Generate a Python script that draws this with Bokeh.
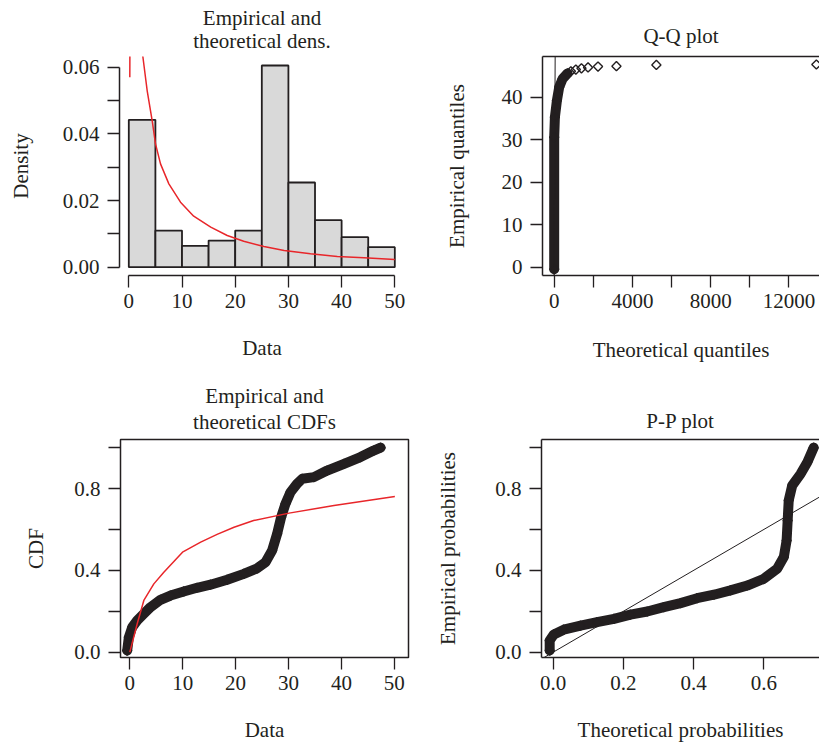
import math
from bokeh.plotting import figure
from bokeh.layouts import column, row
from bokeh.models import Range1d, FixedTicker, PrintfTickFormatter, Slope, LinearAxis
from bokeh.embed import file_html
from bokeh.resources import INLINE

FONT = "Liberation Serif"
FS = "21px"
INK = "#231f20"
RED = "#e8262a"
BAR = "#d9d9d9"

# ---------------- data ----------------
# Histogram (density scale)
hist_edges = [0, 5, 10, 15, 20, 25, 30, 35, 40, 45, 50]
hist_density = [0.0442, 0.0110, 0.0064, 0.0080, 0.0110, 0.0605, 0.0254, 0.0141, 0.0090, 0.0060]

# Fitted (theoretical) density curve
dens_x = [0.19, 0.69, 1.19, 1.69, 2.19, 2.64, 3.45, 4.39, 5.02, 5.96, 7.53, 9.72,
          12.2, 15.4, 18.5, 21.6, 25.4, 29.2, 34.15, 39.2, 44.2, 50.0]
dens_y = [0.057, 0.30, 0.14, 0.095, 0.075, 0.0632, 0.053, 0.044, 0.037, 0.031, 0.025, 0.0195,
          0.0153, 0.012, 0.0095, 0.0078, 0.0062, 0.0050, 0.0040, 0.0032, 0.0028, 0.0023]

# Empirical CDF
ecdf_x = [-0.5, -0.18, 0.45, 1.39, 2.65, 3.91, 5.8, 7.69, 10.2, 12.7, 15.25, 18.4, 21.55,
          24.07, 25.65, 26.9, 27.85, 28.6, 29.43, 30.37, 31.6, 32.6, 34.8, 37.3, 40.5,
          43.6, 46.1, 47.4]
ecdf_p = [0.008, 0.073, 0.122, 0.155, 0.188, 0.22, 0.256, 0.277, 0.297, 0.315, 0.33, 0.354,
          0.383, 0.41, 0.44, 0.497, 0.579, 0.66, 0.726, 0.782, 0.823, 0.848, 0.856, 0.888,
          0.921, 0.954, 0.986, 1.0]

# Theoretical CDF
tcdf_x = [0.0, 1.4, 2.65, 4.54, 6.43, 9.96, 13.4, 16.5, 19.7, 23.4, 30.1, 38.6, 50.1]
tcdf_p = [0.0, 0.139, 0.253, 0.334, 0.391, 0.489, 0.538, 0.576, 0.611, 0.644, 0.68, 0.717, 0.761]

# Q-Q plot: dense band and sparse upper tail
qq_band_theo = [0, 0, 36, 138, 255, 427, 682]
qq_band_emp = [-0.5, 30.6, 35.3, 39.2, 42.35, 44.3, 45.6]
qq_tail_theo = [852, 1107, 1393, 1730, 2240, 3182, 5223, 13403]
qq_tail_emp = [46.1, 46.5, 46.8, 47.0, 47.2, 47.3, 47.6, 47.7]

# P-P plot
pp_theo = [-0.01, -0.01, 0.002, 0.03, 0.078, 0.125, 0.173, 0.22, 0.268, 0.315, 0.363, 0.41,
           0.458, 0.505, 0.553, 0.60, 0.638, 0.657, 0.665, 0.668, 0.671, 0.681, 0.705, 0.724, 0.742]
pp_emp = [0.008, 0.057, 0.087, 0.11, 0.13, 0.147, 0.163, 0.184, 0.199, 0.22, 0.24, 0.264,
          0.281, 0.302, 0.326, 0.359, 0.408, 0.465, 0.546, 0.644, 0.742, 0.815, 0.872, 0.929, 1.0]

# reference line y = x
ref_gradient = 1
ref_intercept = 0


def base_fig(w, h, xr, yr, left, right, top, bottom, box):
    p = figure(width=w, height=h, x_range=Range1d(*xr), y_range=Range1d(*yr),
               output_backend="svg", toolbar_location=None,
               min_border_left=left, min_border_right=right,
               min_border_top=top, min_border_bottom=bottom)
    p.grid.visible = False
    p.background_fill_color = "white"
    p.border_fill_color = "white"
    if box:
        p.outline_line_color = INK
        p.outline_line_width = 1.5
        p.outline_line_alpha = 1.0
    else:
        p.outline_line_color = None
    return p


def style_axis(ax, major, minor, fmt, label, label_standoff, tick_standoff,
               bounds=None, line=False):
    ax.ticker = FixedTicker(ticks=major, minor_ticks=minor)
    ax.formatter = PrintfTickFormatter(format=fmt)
    ax.axis_label = label
    ax.axis_label_standoff = label_standoff
    ax.axis_label_text_font = FONT
    ax.axis_label_text_font_size = FS
    ax.axis_label_text_font_style = "normal"
    ax.axis_label_text_color = INK
    ax.major_label_text_font = FONT
    ax.major_label_text_font_size = FS
    ax.major_label_text_color = INK
    ax.major_label_standoff = tick_standoff
    ax.major_tick_in = 0
    ax.major_tick_out = 12
    ax.minor_tick_in = 0
    ax.minor_tick_out = 12
    ax.major_tick_line_color = INK
    ax.minor_tick_line_color = INK
    ax.major_tick_line_width = 1.3
    ax.minor_tick_line_width = 1.3
    ax.axis_line_color = INK if line else None
    ax.axis_line_width = 1.5
    if bounds is not None:
        ax.bounds = bounds


def title_axis(p, text, standoff, line=False, bounds=None):
    """Title line drawn as the label of a tick-less axis above the frame.
    With line=True the axis line also forms the top side of the box."""
    ax = LinearAxis(ticker=FixedTicker(ticks=[]), major_tick_out=0, major_tick_in=0,
                    minor_tick_out=0, minor_tick_in=0, major_label_standoff=0,
                    axis_label=text, axis_label_standoff=standoff,
                    axis_label_text_font=FONT, axis_label_text_font_size=FS,
                    axis_label_text_font_style="normal", axis_label_text_color=INK,
                    axis_label_text_line_height=1.0,
                    axis_line_color=INK if line else None, axis_line_width=1.5)
    if bounds is not None:
        ax.bounds = bounds
    p.add_layout(ax, "above")


def band(p, xs, ys, width=10):
    p.line(xs, ys, line_color=INK, line_width=width, line_cap="round", line_join="round")


def diamonds(p, xs, ys):
    p.scatter(xs, ys, marker="square", angle=math.pi / 4, size=6.5,
              fill_color=None, line_color=INK, line_width=1.4)


# ---------------- panel 1: histogram + density ----------------
p1 = base_fig(422, 370, (-1.748, 51.82), (-0.00249, 0.0632), 119, 18, 56, 95, box=False)
p1.quad(left=hist_edges[:-1], right=hist_edges[1:], bottom=0, top=hist_density,
        fill_color=BAR, line_color=INK, line_width=1.8)
p1.line(dens_x, dens_y, line_color=RED, line_width=1.5)
style_axis(p1.xaxis[0], [0, 10, 20, 30, 40, 50], [], "%d", "Data", 25, 6,
           bounds=(0, 50), line=True)
style_axis(p1.yaxis[0], [0, 0.02, 0.04, 0.06], [0.01, 0.03, 0.05], "%.2f", "Density", 27, 8,
           bounds=(0, 0.06), line=True)
title_axis(p1, "theoretical dens.", 4)
title_axis(p1, "Empirical and", -4)

# ---------------- panel 2: Q-Q plot ----------------
p2 = base_fig(397, 370, (-598, 13563), (-1.95, 49.58), 120, 0, 56, 95, box=False)
band(p2, qq_band_theo, qq_band_emp)
diamonds(p2, qq_band_theo + qq_tail_theo, qq_band_emp + qq_tail_emp)
p2.add_layout(Slope(gradient=ref_gradient, y_intercept=ref_intercept, line_color=INK, line_width=1))
style_axis(p2.xaxis[0], [0, 4000, 8000, 12000], [2000, 6000, 10000], "%d",
           "Theoretical quantiles", 27, 6, line=True)
style_axis(p2.yaxis[0], [0, 10, 20, 30, 40], [], "%d", "Empirical quantiles", 30, 8, line=True)
title_axis(p2, "Q-Q plot", 9, line=True, bounds=(-598, 13972))

# ---------------- panel 3: CDFs ----------------
p3 = base_fig(422, 376, (-1.76, 52.68), (-0.026, 1.040), 120, 14, 69, 89, box=True)
band(p3, ecdf_x, ecdf_p)
diamonds(p3, ecdf_x, ecdf_p)
p3.line(tcdf_x, tcdf_p, line_color=RED, line_width=1.5)
style_axis(p3.xaxis[0], [0, 10, 20, 30, 40, 50], [], "%d", "Data", 25, 6)
style_axis(p3.yaxis[0], [0.0, 0.4, 0.8], [0.2, 0.6, 1.0], "%.1f", "CDF", 23, 8)
title_axis(p3, "theoretical CDFs", 6)
title_axis(p3, "Empirical and", -1)

# ---------------- panel 4: P-P plot ----------------
p4 = base_fig(397, 376, (-0.0333, 0.7587), (-0.026, 1.040), 119, 0, 69, 89, box=False)
band(p4, pp_theo, pp_emp)
diamonds(p4, pp_theo, pp_emp)
p4.add_layout(Slope(gradient=ref_gradient, y_intercept=ref_intercept, line_color=INK, line_width=1))
style_axis(p4.xaxis[0], [0.0, 0.2, 0.4, 0.6], [], "%.1f", "Theoretical probabilities", 25, 6,
           line=True)
style_axis(p4.yaxis[0], [0.0, 0.4, 0.8], [0.2, 0.6, 1.0], "%.1f", "Empirical probabilities",
           32, 8, line=True)
title_axis(p4, "P-P plot", 7, line=True, bounds=(-0.0333, 0.7786))

layout = column(row(p1, p2), row(p3, p4))
open("out.html", "w").write(file_html(layout, INLINE, title="fit diagnostics"))
